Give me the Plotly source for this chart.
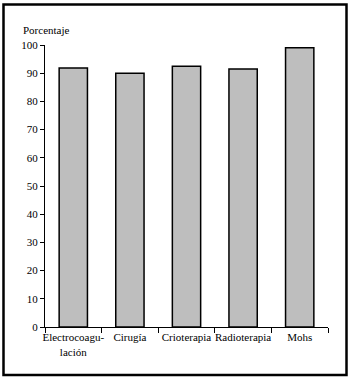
import plotly.graph_objects as go

categories = ["Electrocoagu-<br>lación", "Cirugía", "Crioterapia", "Radioterapia", "Mohs"]
values = [91.8, 90.0, 92.5, 91.5, 99.0]
y_ticks = [0, 10, 20, 30, 40, 50, 60, 70, 80, 90, 100]

W, H = 351, 379
L, R, T, B = 45, 23, 45, 52
pw, ph = W - L - R, H - T - B

def px_x(p):
    return (p - L) / pw

def px_y(p):
    return (H - B - p) / ph

FAM = "Liberation Serif"
font = dict(family=FAM, size=11, color="black")

def serif(t):
    return "<br>".join(
        f"<span style='font-family:{FAM}'>{part}</span>" for part in str(t).split("<br>")
    )

fig = go.Figure(go.Bar(
    x=categories, y=values,
    width=0.5,
    marker=dict(color="#bebebe", line=dict(color="black", width=1.5)),
))

fig.update_layout(
    template="none",
    width=W, height=H,
    margin=dict(l=L, r=R, t=T, b=B),
    paper_bgcolor="white", plot_bgcolor="white",
    font=font,
    showlegend=False,
    xaxis=dict(
        showline=True, linecolor="black", linewidth=1,
        ticks="outside", tickson="boundaries", ticklen=5, tickcolor="black", tickwidth=1,
        showgrid=False, zeroline=False, tickangle=0,
        tickmode="array", tickvals=categories, ticktext=[serif(c) for c in categories],
        tickfont=font,
    ),
    yaxis=dict(
        range=[0, 100], tickmode="array", tickvals=y_ticks,
        ticktext=[serif(v) for v in y_ticks],
        showline=True, linecolor="black", linewidth=1,
        ticks="outside", ticklen=4, tickcolor="black", tickwidth=1,
        showgrid=False, zeroline=False,
        tickfont=font,
    ),
    shapes=[dict(
        type="rect", xref="paper", yref="paper",
        x0=px_x(3.5), x1=px_x(346.5), y0=px_y(375), y1=px_y(4.5),
        line=dict(color="black", width=2.5), fillcolor="rgba(0,0,0,0)",
        layer="above",
    )],
    annotations=[dict(
        text="Porcentaje", xref="paper", yref="paper",
        x=px_x(21), y=px_y(30), xanchor="left", yanchor="middle",
        showarrow=False, font=font,
    )],
)

fig.write_html(
    "out.html",
    config={"displayModeBar": False},
    post_script="document.body.style.margin='0';document.body.style.overflow='hidden';",
)
